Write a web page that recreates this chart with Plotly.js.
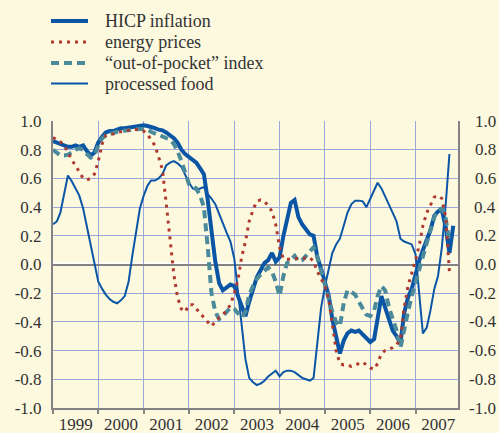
<!DOCTYPE html>
<html>
<head>
<meta charset="utf-8">
<script src="https://cdn.plot.ly/plotly-3.0.1.min.js"></script>
<style>
html,body{margin:0;padding:0;background:#FCF9DF;}
#chart{width:499px;height:433px;}
</style>
</head>
<body>
<div id="chart"></div>
<script>
// Monthly observations starting January 1999
const startYear = 1999;

const hicpInflation = [
  0.86, 0.85, 0.84, 0.83, 0.82, 0.82, 0.83, 0.82, 0.83, 0.79, 0.76, 0.78,
  0.85, 0.89, 0.92, 0.93, 0.93, 0.94, 0.95, 0.95, 0.955, 0.96, 0.965, 0.97,
  0.97, 0.965, 0.96, 0.95, 0.94, 0.935, 0.92, 0.90, 0.88, 0.85, 0.80, 0.77,
  0.75, 0.73, 0.71, 0.67, 0.63, 0.45, 0.25, 0.02, -0.13, -0.18, -0.16, -0.14,
  -0.15, -0.22, -0.30, -0.36, -0.26, -0.16, -0.09, -0.04, 0.01, 0.03, 0.08, 0.02,
  0.05, 0.20, 0.30, 0.43, 0.45, 0.33, 0.28, 0.24, 0.21, 0.20, 0.05, -0.03,
  -0.12, -0.22, -0.38, -0.52, -0.62, -0.53, -0.48, -0.46, -0.47, -0.46, -0.49, -0.52,
  -0.54, -0.52, -0.38, -0.22, -0.30, -0.38, -0.46, -0.50, -0.55, -0.34, -0.23, -0.17,
  -0.06, 0.03, 0.10, 0.17, 0.24, 0.34, 0.37, 0.38, 0.26, 0.08, 0.27
];

const energyPrices = [
  0.885, 0.87, 0.855, 0.83, 0.78, 0.73, 0.69, 0.64, 0.60, 0.59, 0.60, 0.63,
  0.72, 0.84, 0.90, 0.91, 0.91, 0.92, 0.925, 0.93, 0.94, 0.94, 0.94, 0.94,
  0.93, 0.905, 0.87, 0.83, 0.75, 0.66, 0.43, 0.17, -0.07, -0.23, -0.31, -0.33,
  -0.28, -0.28, -0.31, -0.34, -0.37, -0.40, -0.43, -0.40, -0.37, -0.35, -0.32, -0.28,
  -0.20, -0.10, 0.05, 0.16, 0.30, 0.38, 0.44, 0.45, 0.44, 0.41, 0.37, 0.28,
  0.12, 0.04, 0.035, 0.04, 0.04, 0.04, 0.045, 0.045, 0.05, 0.02, -0.05, -0.10,
  -0.15, -0.25, -0.42, -0.60, -0.69, -0.70, -0.70, -0.71, -0.70, -0.69, -0.68, -0.70,
  -0.72, -0.73, -0.69, -0.62, -0.60, -0.59, -0.58, -0.56, -0.52, -0.30, -0.15, -0.06,
  0.03, 0.14, 0.27, 0.36, 0.41, 0.47, 0.48, 0.46, 0.33, -0.05
];

const outOfPocket = [
  0.80, 0.78, 0.76, 0.76, 0.765, 0.78, 0.80, 0.81, 0.80, 0.77, 0.745, 0.76,
  0.83, 0.88, 0.90, 0.91, 0.92, 0.925, 0.93, 0.93, 0.935, 0.94, 0.945, 0.945,
  0.945, 0.94, 0.925, 0.915, 0.905, 0.895, 0.885, 0.87, 0.84, 0.79, 0.72, 0.64,
  0.56, 0.545, 0.53, 0.48, 0.40, 0.12, -0.20, -0.33, -0.38, -0.36, -0.33, -0.30,
  -0.31, -0.34, -0.37, -0.33, -0.21, -0.15, -0.10, -0.07, -0.04, -0.02, -0.05, -0.12,
  -0.22, -0.08, 0.01, 0.04, 0.06, 0.02, 0.03, 0.06, 0.09, 0.12, 0.05, -0.05,
  -0.13, -0.24, -0.33, -0.40, -0.43, -0.27, -0.18, -0.19, -0.21, -0.26, -0.31, -0.35,
  -0.36, -0.32, -0.22, -0.15, -0.18, -0.30, -0.38, -0.46, -0.58, -0.44, -0.33, -0.22,
  -0.12, -0.03, 0.07, 0.15, 0.24, 0.33, 0.38, 0.39, 0.32, 0.15
];

const processedFood = [
  0.28, 0.30, 0.36, 0.49, 0.62, 0.58, 0.53, 0.48, 0.39, 0.26, 0.13, 0.00,
  -0.12, -0.17, -0.21, -0.24, -0.26, -0.27, -0.25, -0.22, -0.12, 0.06, 0.24, 0.39,
  0.48, 0.55, 0.585, 0.585, 0.60, 0.63, 0.69, 0.71, 0.72, 0.705, 0.68, 0.63,
  0.57, 0.53, 0.52, 0.53, 0.54, 0.49, 0.46, 0.42, 0.35, 0.28, 0.22, 0.16,
  0.04, -0.20, -0.42, -0.66, -0.79, -0.82, -0.84, -0.83, -0.81, -0.78, -0.76, -0.74,
  -0.78, -0.75, -0.74, -0.74, -0.75, -0.77, -0.79, -0.80, -0.81, -0.79, -0.52, -0.30,
  -0.15, -0.03, 0.08, 0.14, 0.18, 0.27, 0.36, 0.42, 0.445, 0.445, 0.44, 0.40,
  0.46, 0.52, 0.57, 0.53, 0.47, 0.42, 0.36, 0.30, 0.18, 0.16, 0.15, 0.14,
  0.07, -0.25, -0.48, -0.44, -0.32, -0.17, -0.08, 0.12, 0.42, 0.77
];

const yTickVals = [1.0, 0.8, 0.6, 0.4, 0.2, 0.0, -0.2, -0.4, -0.6, -0.8, -1.0];
const yTickText = ['1.0', '0.8', '0.6', '0.4', '0.2', '0.0', '-0.2', '-0.4', '-0.6', '-0.8', '-1.0'];

// Legend order (top to bottom)
const seriesNames = ['HICP inflation', 'energy prices', '\u201cout-of-pocket\u201d index', 'processed food'];

function monthDates(n) {
  const out = [];
  for (let k = 0; k < n; k++) {
    const y = startYear + Math.floor(k / 12);
    const m = (k % 12) + 1;
    out.push(y + '-' + String(m).padStart(2, '0') + '-01');
  }
  return out;
}

const FONT = '"Liberation Serif", "Times New Roman", Times, serif';
const TXT = '#333333';
const BLUE = '#0B55A5';
const TEAL = '#4B8A9A';
const RED = '#B0392F';
const GRID = '#9DA8DA';
const AXIS = '#838383';
const BG = '#FCF9DF';

const styles = [
  {color: BLUE, width: 4, dash: 'solid'},
  {color: RED, width: 3, dash: '3px,5px'},
  {color: TEAL, width: 4, dash: '8px,5px'},
  {color: BLUE, width: 2, dash: 'solid'}
];
const seriesData = [hicpInflation, energyPrices, outOfPocket, processedFood];
const drawOrder = [3, 0, 2, 1];

const traces = drawOrder.map(i => ({
  x: monthDates(seriesData[i].length), y: seriesData[i], name: seriesNames[i],
  type: 'scatter', mode: 'lines', line: styles[i], showlegend: false
}));

// Manual legend, positioned in paper coordinates
const PLOT_L = 53, PLOT_W = 405, PLOT_B = 408, PLOT_H = 287;
const px = v => (v - PLOT_L) / PLOT_W;
const py = v => (PLOT_B - v) / PLOT_H;
const legendRowsY = [21, 42, 63, 83.5];

const legendShapes = seriesNames.map((n, i) => ({
  type: 'line', xref: 'paper', yref: 'paper',
  x0: px(51), x1: px(88), y0: py(legendRowsY[i]), y1: py(legendRowsY[i]),
  line: styles[i]
}));
const legendTexts = seriesNames.map((n, i) => ({
  xref: 'paper', yref: 'paper', x: px(103), y: py(legendRowsY[i]),
  xanchor: 'left', yanchor: 'middle', text: n, showarrow: false,
  font: {family: FONT, size: 18, color: TXT}
}));

// light highlight just above the zero line
const zeroHighlight = {
  type: 'line', xref: 'paper', yref: 'y', layer: 'between',
  x0: 0, x1: 1, y0: 0.009, y1: 0.009,
  line: {color: '#FFFFFF', width: 1.5}
};

const rightLabels = yTickVals.map((v, i) => ({
  x: 1, xref: 'paper', y: v, yref: 'y', xanchor: 'right', yanchor: 'middle',
  xshift: 40, text: yTickText[i], showarrow: false,
  font: {family: FONT, size: 17, color: TXT}
}));

const layout = {
  width: 499, height: 433,
  margin: {l: PLOT_L, r: 499 - PLOT_L - PLOT_W, t: PLOT_B - PLOT_H, b: 433 - PLOT_B, pad: 0},
  paper_bgcolor: BG, plot_bgcolor: BG,
  font: {family: FONT, size: 17, color: TXT},
  showlegend: false,
  xaxis: {
    type: 'date', range: ['1999-01-01', '2007-12-09'],
    tick0: '1999-01-01', dtick: 'M12', tickformat: '%Y', ticklabelmode: 'period',
    ticks: 'outside', ticklen: 4, tickwidth: 2, tickcolor: AXIS,
    showgrid: true, gridcolor: GRID, gridwidth: 1,
    showline: true, linecolor: AXIS, linewidth: 2, mirror: false,
    tickfont: {family: FONT, size: 17, color: TXT},
    ticklabelstandoff: -4,
    zeroline: false, fixedrange: true
  },
  yaxis: {
    range: [-1, 1], tickvals: yTickVals, ticktext: yTickText,
    ticks: '', showgrid: true, gridcolor: GRID, gridwidth: 1,
    zeroline: true, zerolinecolor: AXIS, zerolinewidth: 2,
    showline: true, linecolor: AXIS, linewidth: 2, mirror: true,
    tickfont: {family: FONT, size: 17, color: TXT},
    ticklabelstandoff: 6, fixedrange: true
  },
  shapes: legendShapes.concat([zeroHighlight]),
  annotations: rightLabels.concat(legendTexts)
};

Plotly.newPlot('chart', traces, layout, {displayModeBar: false, staticPlot: true});
</script>
</body>
</html>
